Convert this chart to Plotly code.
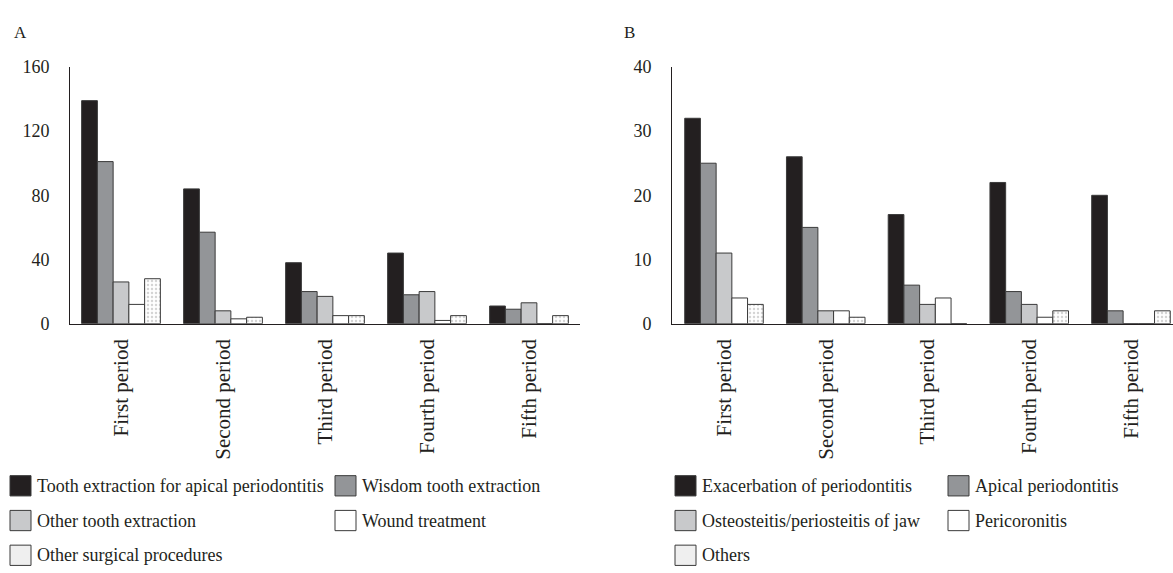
import plotly.graph_objects as go

W, H = 1173, 573

periods = ["First period", "Second period", "Third period", "Fourth period", "Fifth period"]

# Panel A: surgical procedures
a_names = ["Tooth extraction for apical periodontitis", "Wisdom tooth extraction",
           "Other tooth extraction", "Wound treatment", "Other surgical procedures"]
a_apical_extraction = [139, 84, 38, 44, 11]
a_wisdom_extraction = [101, 57, 20, 18, 9]
a_other_extraction = [26, 8, 17, 20, 13]
a_wound_treatment = [12, 3, 5, 2, 0]
a_other_surgical = [28, 4, 5, 5, 5]
a_ticks = [0, 40, 80, 120, 160]

# Panel B: diagnoses
b_names = ["Exacerbation of periodontitis", "Apical periodontitis",
           "Osteosteitis/periosteitis of jaw", "Pericoronitis", "Others"]
b_exacerbation = [32, 26, 17, 22, 20]
b_apical = [25, 15, 6, 5, 2]
b_osteitis = [11, 2, 3, 3, 0]
b_pericoronitis = [4, 2, 4, 1, 0]
b_others = [3, 1, 0, 2, 2]
b_ticks = [0, 10, 20, 30, 40]

FILLS = ["#231f20", "#939598", "#c8c9cb", "#ffffff", "#ffffff"]
EDGE = "#3a3a3a"
FONT = "Liberation Serif, Times New Roman, serif"
TXT = "#231f20"


def px(x):
    return x / W


def py(y):
    return 1 - y / H


fig = go.Figure()


def add_bars(series, names, xaxis, yaxis):
    for i, (vals, name) in enumerate(zip(series, names)):
        marker = dict(color=FILLS[i], line=dict(color=EDGE, width=1))
        if i == 4:
            marker["pattern"] = dict(shape=".", fgcolor="#a8a8a8", bgcolor="#ffffff",
                                     size=4, solidity=0.3)
        fig.add_trace(go.Bar(x=periods, y=vals, name=name, marker=marker,
                             xaxis=xaxis, yaxis=yaxis, showlegend=False))


add_bars([a_apical_extraction, a_wisdom_extraction, a_other_extraction,
          a_wound_treatment, a_other_surgical], a_names, "x", "y")
add_bars([b_exacerbation, b_apical, b_osteitis, b_pericoronitis, b_others],
         b_names, "x2", "y2")

ydom = [py(325), py(59)]
common_x = dict(type="category", showline=True, linecolor=TXT, linewidth=1,
                ticks="", tickangle=-90, ticklabelstandoff=6,
                tickfont=dict(family=FONT, size=21, color=TXT), showgrid=False,
                zeroline=False, fixedrange=True)
common_y = dict(showline=True, linecolor=TXT, linewidth=1, ticks="",
                ticklabelstandoff=16, tickfont=dict(family=FONT, size=18, color=TXT),
                showgrid=False, zeroline=False, fixedrange=True)

fig.update_layout(
    width=W, height=H,
    margin=dict(l=0, r=0, t=0, b=0),
    paper_bgcolor="white", plot_bgcolor="white",
    barmode="group", bargap=0.228, bargroupgap=0,
    xaxis=dict(common_x, domain=[px(70), px(580)], range=[-0.5, 4.5], anchor="y"),
    yaxis=dict(common_y, domain=ydom, range=[0, 160], tickvals=a_ticks, anchor="x"),
    xaxis2=dict(common_x, domain=[px(672), 1.0], range=[-0.511, 4.413], anchor="y2"),
    yaxis2=dict(common_y, domain=ydom, range=[0, 40], tickvals=b_ticks, anchor="x2"),
)

# Panel letters
for letter, x in (("A", 12), ("B", 622)):
    fig.add_annotation(text=letter, x=px(x), y=py(23), xref="paper", yref="paper",
                       xanchor="left", yanchor="middle", showarrow=False,
                       font=dict(family=FONT, size=17, color=TXT))

# Legends drawn below each panel
ROWS = [493, 529, 565]
SW = 21


def add_legend(names, col_x):
    slots = [(0, 0), (0, 1), (1, 0), (1, 1), (2, 0)]
    for i, (name, (r, c)) in enumerate(zip(names, slots)):
        x0 = col_x[c]
        yc = ROWS[r]
        fill = FILLS[i] if i < 4 else "#efefef"
        fig.add_shape(type="rect", xref="paper", yref="paper",
                      x0=px(x0), x1=px(x0 + SW), y0=py(yc + SW / 2), y1=py(yc - SW / 2),
                      fillcolor=fill, line=dict(color=EDGE, width=1))
        fig.add_annotation(text=name, x=px(x0 + SW + 4), y=py(yc), xref="paper",
                           yref="paper", xanchor="left", yanchor="middle",
                           showarrow=False, font=dict(family=FONT, size=18, color=TXT))


add_legend(a_names, [10, 335])
add_legend(b_names, [675, 948])

fig.write_html("out.html")
